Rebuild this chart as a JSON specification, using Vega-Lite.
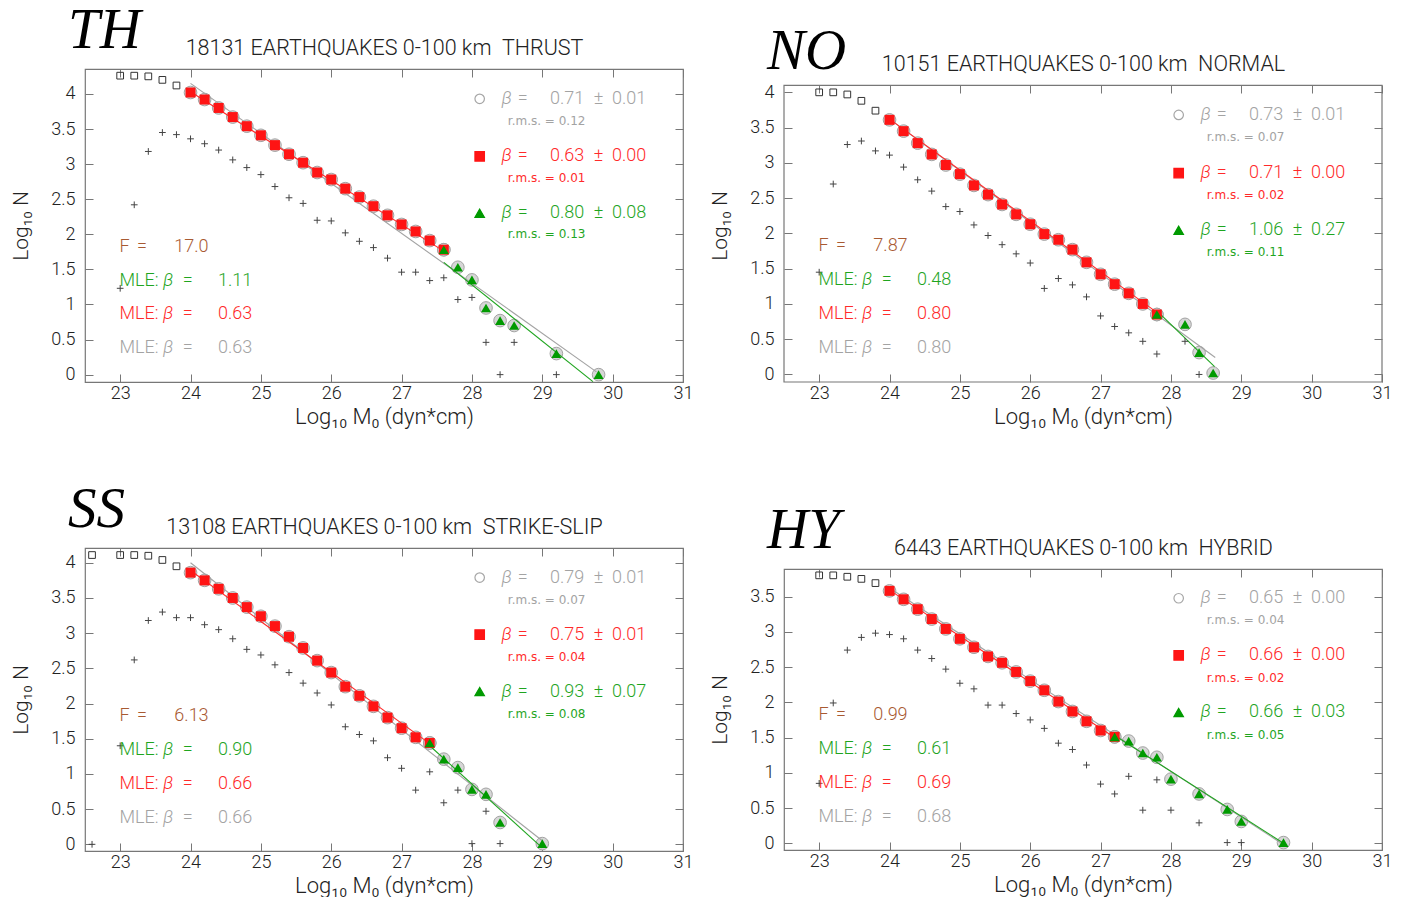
{
"$schema": "https://vega.github.io/schema/vega-lite/v6.json",
"background": "white",
"padding": {"left": 10, "top": 0, "right": 0, "bottom": 0},
"config": {
 "view": {"stroke": "#777777", "strokeWidth": 1.2},
 "axis": {"domain": false, "grid": false, "ticks": true, "tickColor": "#777777", "tickSize": -8, "tickWidth": 1, "labelFont": "Roboto", "labelFontSize": 18, "labelFontWeight": 300, "labelColor": "#222222", "labelFlush": false, "labelOverlap": false, "titleFont": "Roboto, DejaVu Sans", "titleFontSize": 21, "titleFontWeight": 300, "titleColor": "#222222"},
 "title": {"font": "Liberation Serif", "fontStyle": "italic", "fontWeight": "normal", "fontSize": 57, "color": "#000000", "anchor": "start", "frame": "group", "dx": -17, "offset": -22}
},
"datasets": {
 "pts": [
  {"p":"TH","k":"low","x":23.0,"y":4.26},{"p":"TH","k":"low","x":23.2,"y":4.26},{"p":"TH","k":"low","x":23.4,"y":4.25},{"p":"TH","k":"low","x":23.6,"y":4.20},{"p":"TH","k":"low","x":23.8,"y":4.12},
  {"p":"TH","k":"fit1","x":24.0,"y":4.02},{"p":"TH","k":"fit1","x":24.2,"y":3.92},{"p":"TH","k":"fit1","x":24.4,"y":3.80},{"p":"TH","k":"fit1","x":24.6,"y":3.67},{"p":"TH","k":"fit1","x":24.8,"y":3.54},{"p":"TH","k":"fit1","x":25.0,"y":3.41},{"p":"TH","k":"fit1","x":25.2,"y":3.27},{"p":"TH","k":"fit1","x":25.4,"y":3.14},{"p":"TH","k":"fit1","x":25.6,"y":3.02},{"p":"TH","k":"fit1","x":25.8,"y":2.88},{"p":"TH","k":"fit1","x":26.0,"y":2.78},{"p":"TH","k":"fit1","x":26.2,"y":2.65},{"p":"TH","k":"fit1","x":26.4,"y":2.53},{"p":"TH","k":"fit1","x":26.6,"y":2.40},{"p":"TH","k":"fit1","x":26.8,"y":2.27},{"p":"TH","k":"fit1","x":27.0,"y":2.14},{"p":"TH","k":"fit1","x":27.2,"y":2.04},{"p":"TH","k":"fit1","x":27.4,"y":1.91},{"p":"TH","k":"fit1","x":27.6,"y":1.78},
  {"p":"TH","k":"fit2","x":27.6,"y":1.78},{"p":"TH","k":"fit2","x":27.8,"y":1.53},{"p":"TH","k":"fit2","x":28.0,"y":1.35},{"p":"TH","k":"fit2","x":28.2,"y":0.95},{"p":"TH","k":"fit2","x":28.4,"y":0.77},{"p":"TH","k":"fit2","x":28.6,"y":0.70},{"p":"TH","k":"fit2","x":29.2,"y":0.30},{"p":"TH","k":"fit2","x":29.8,"y":0.00},
  {"p":"TH","k":"inc","x":23.0,"y":1.23},{"p":"TH","k":"inc","x":23.2,"y":2.42},{"p":"TH","k":"inc","x":23.4,"y":3.18},{"p":"TH","k":"inc","x":23.6,"y":3.45},{"p":"TH","k":"inc","x":23.8,"y":3.42},{"p":"TH","k":"inc","x":24.0,"y":3.36},{"p":"TH","k":"inc","x":24.2,"y":3.29},{"p":"TH","k":"inc","x":24.4,"y":3.20},{"p":"TH","k":"inc","x":24.6,"y":3.06},{"p":"TH","k":"inc","x":24.8,"y":2.95},{"p":"TH","k":"inc","x":25.0,"y":2.85},{"p":"TH","k":"inc","x":25.2,"y":2.68},{"p":"TH","k":"inc","x":25.4,"y":2.52},{"p":"TH","k":"inc","x":25.6,"y":2.44},{"p":"TH","k":"inc","x":25.8,"y":2.20},{"p":"TH","k":"inc","x":26.0,"y":2.19},{"p":"TH","k":"inc","x":26.2,"y":2.02},{"p":"TH","k":"inc","x":26.4,"y":1.90},{"p":"TH","k":"inc","x":26.6,"y":1.81},{"p":"TH","k":"inc","x":26.8,"y":1.66},{"p":"TH","k":"inc","x":27.0,"y":1.46},{"p":"TH","k":"inc","x":27.2,"y":1.46},{"p":"TH","k":"inc","x":27.4,"y":1.34},{"p":"TH","k":"inc","x":27.6,"y":1.38},{"p":"TH","k":"inc","x":27.8,"y":1.07},{"p":"TH","k":"inc","x":28.0,"y":1.10},{"p":"TH","k":"inc","x":28.2,"y":0.46},{"p":"TH","k":"inc","x":28.4,"y":0.0},{"p":"TH","k":"inc","x":28.6,"y":0.46},{"p":"TH","k":"inc","x":29.2,"y":0.0},

  {"p":"NO","k":"low","x":23.0,"y":4.00},{"p":"NO","k":"low","x":23.2,"y":4.00},{"p":"NO","k":"low","x":23.4,"y":3.97},{"p":"NO","k":"low","x":23.6,"y":3.88},{"p":"NO","k":"low","x":23.8,"y":3.74},
  {"p":"NO","k":"fit1","x":24.0,"y":3.61},{"p":"NO","k":"fit1","x":24.2,"y":3.45},{"p":"NO","k":"fit1","x":24.4,"y":3.28},{"p":"NO","k":"fit1","x":24.6,"y":3.12},{"p":"NO","k":"fit1","x":24.8,"y":2.97},{"p":"NO","k":"fit1","x":25.0,"y":2.84},{"p":"NO","k":"fit1","x":25.2,"y":2.68},{"p":"NO","k":"fit1","x":25.4,"y":2.55},{"p":"NO","k":"fit1","x":25.6,"y":2.41},{"p":"NO","k":"fit1","x":25.8,"y":2.27},{"p":"NO","k":"fit1","x":26.0,"y":2.13},{"p":"NO","k":"fit1","x":26.2,"y":1.99},{"p":"NO","k":"fit1","x":26.4,"y":1.91},{"p":"NO","k":"fit1","x":26.6,"y":1.77},{"p":"NO","k":"fit1","x":26.8,"y":1.59},{"p":"NO","k":"fit1","x":27.0,"y":1.42},{"p":"NO","k":"fit1","x":27.2,"y":1.28},{"p":"NO","k":"fit1","x":27.4,"y":1.15},{"p":"NO","k":"fit1","x":27.6,"y":1.00},{"p":"NO","k":"fit1","x":27.8,"y":0.85},
  {"p":"NO","k":"fit2","x":27.8,"y":0.85},{"p":"NO","k":"fit2","x":28.2,"y":0.71},{"p":"NO","k":"fit2","x":28.4,"y":0.31},{"p":"NO","k":"fit2","x":28.6,"y":0.02},
  {"p":"NO","k":"inc","x":23.0,"y":1.45},{"p":"NO","k":"inc","x":23.2,"y":2.70},{"p":"NO","k":"inc","x":23.4,"y":3.26},{"p":"NO","k":"inc","x":23.6,"y":3.31},{"p":"NO","k":"inc","x":23.8,"y":3.17},{"p":"NO","k":"inc","x":24.0,"y":3.11},{"p":"NO","k":"inc","x":24.2,"y":2.94},{"p":"NO","k":"inc","x":24.4,"y":2.76},{"p":"NO","k":"inc","x":24.6,"y":2.60},{"p":"NO","k":"inc","x":24.8,"y":2.38},{"p":"NO","k":"inc","x":25.0,"y":2.31},{"p":"NO","k":"inc","x":25.2,"y":2.12},{"p":"NO","k":"inc","x":25.4,"y":1.97},{"p":"NO","k":"inc","x":25.6,"y":1.84},{"p":"NO","k":"inc","x":25.8,"y":1.71},{"p":"NO","k":"inc","x":26.0,"y":1.58},{"p":"NO","k":"inc","x":26.2,"y":1.22},{"p":"NO","k":"inc","x":26.4,"y":1.36},{"p":"NO","k":"inc","x":26.6,"y":1.27},{"p":"NO","k":"inc","x":26.8,"y":1.10},{"p":"NO","k":"inc","x":27.0,"y":0.83},{"p":"NO","k":"inc","x":27.2,"y":0.68},{"p":"NO","k":"inc","x":27.4,"y":0.59},{"p":"NO","k":"inc","x":27.6,"y":0.47},{"p":"NO","k":"inc","x":27.8,"y":0.29},{"p":"NO","k":"inc","x":28.2,"y":0.47},{"p":"NO","k":"inc","x":28.4,"y":0.0},

  {"p":"SS","k":"low","x":22.6,"y":4.11},{"p":"SS","k":"low","x":23.0,"y":4.11},{"p":"SS","k":"low","x":23.2,"y":4.11},{"p":"SS","k":"low","x":23.4,"y":4.10},{"p":"SS","k":"low","x":23.6,"y":4.04},{"p":"SS","k":"low","x":23.8,"y":3.95},
  {"p":"SS","k":"fit1","x":24.0,"y":3.86},{"p":"SS","k":"fit1","x":24.2,"y":3.75},{"p":"SS","k":"fit1","x":24.4,"y":3.63},{"p":"SS","k":"fit1","x":24.6,"y":3.50},{"p":"SS","k":"fit1","x":24.8,"y":3.37},{"p":"SS","k":"fit1","x":25.0,"y":3.24},{"p":"SS","k":"fit1","x":25.2,"y":3.10},{"p":"SS","k":"fit1","x":25.4,"y":2.95},{"p":"SS","k":"fit1","x":25.6,"y":2.79},{"p":"SS","k":"fit1","x":25.8,"y":2.61},{"p":"SS","k":"fit1","x":26.0,"y":2.44},{"p":"SS","k":"fit1","x":26.2,"y":2.24},{"p":"SS","k":"fit1","x":26.4,"y":2.11},{"p":"SS","k":"fit1","x":26.6,"y":1.96},{"p":"SS","k":"fit1","x":26.8,"y":1.80},{"p":"SS","k":"fit1","x":27.0,"y":1.65},{"p":"SS","k":"fit1","x":27.2,"y":1.52},{"p":"SS","k":"fit1","x":27.4,"y":1.44},
  {"p":"SS","k":"fit2","x":27.4,"y":1.44},{"p":"SS","k":"fit2","x":27.6,"y":1.21},{"p":"SS","k":"fit2","x":27.8,"y":1.09},{"p":"SS","k":"fit2","x":28.0,"y":0.78},{"p":"SS","k":"fit2","x":28.2,"y":0.71},{"p":"SS","k":"fit2","x":28.4,"y":0.31},{"p":"SS","k":"fit2","x":29.0,"y":0.01},
  {"p":"SS","k":"inc","x":22.6,"y":0.0},{"p":"SS","k":"inc","x":23.0,"y":1.40},{"p":"SS","k":"inc","x":23.2,"y":2.62},{"p":"SS","k":"inc","x":23.4,"y":3.18},{"p":"SS","k":"inc","x":23.6,"y":3.30},{"p":"SS","k":"inc","x":23.8,"y":3.22},{"p":"SS","k":"inc","x":24.0,"y":3.22},{"p":"SS","k":"inc","x":24.2,"y":3.12},{"p":"SS","k":"inc","x":24.4,"y":3.05},{"p":"SS","k":"inc","x":24.6,"y":2.92},{"p":"SS","k":"inc","x":24.8,"y":2.77},{"p":"SS","k":"inc","x":25.0,"y":2.69},{"p":"SS","k":"inc","x":25.2,"y":2.55},{"p":"SS","k":"inc","x":25.4,"y":2.44},{"p":"SS","k":"inc","x":25.6,"y":2.29},{"p":"SS","k":"inc","x":25.8,"y":2.15},{"p":"SS","k":"inc","x":26.0,"y":1.98},{"p":"SS","k":"inc","x":26.2,"y":1.67},{"p":"SS","k":"inc","x":26.4,"y":1.56},{"p":"SS","k":"inc","x":26.6,"y":1.47},{"p":"SS","k":"inc","x":26.8,"y":1.23},{"p":"SS","k":"inc","x":27.0,"y":1.08},{"p":"SS","k":"inc","x":27.2,"y":0.77},{"p":"SS","k":"inc","x":27.4,"y":1.03},{"p":"SS","k":"inc","x":27.6,"y":0.59},{"p":"SS","k":"inc","x":27.8,"y":0.77},{"p":"SS","k":"inc","x":28.0,"y":0.01},{"p":"SS","k":"inc","x":28.2,"y":0.47},{"p":"SS","k":"inc","x":28.4,"y":0.01},

  {"p":"HY","k":"low","x":23.0,"y":3.80},{"p":"HY","k":"low","x":23.2,"y":3.80},{"p":"HY","k":"low","x":23.4,"y":3.78},{"p":"HY","k":"low","x":23.6,"y":3.75},{"p":"HY","k":"low","x":23.8,"y":3.69},
  {"p":"HY","k":"fit1","x":24.0,"y":3.58},{"p":"HY","k":"fit1","x":24.2,"y":3.46},{"p":"HY","k":"fit1","x":24.4,"y":3.32},{"p":"HY","k":"fit1","x":24.6,"y":3.18},{"p":"HY","k":"fit1","x":24.8,"y":3.04},{"p":"HY","k":"fit1","x":25.0,"y":2.90},{"p":"HY","k":"fit1","x":25.2,"y":2.78},{"p":"HY","k":"fit1","x":25.4,"y":2.65},{"p":"HY","k":"fit1","x":25.6,"y":2.56},{"p":"HY","k":"fit1","x":25.8,"y":2.43},{"p":"HY","k":"fit1","x":26.0,"y":2.30},{"p":"HY","k":"fit1","x":26.2,"y":2.17},{"p":"HY","k":"fit1","x":26.4,"y":2.01},{"p":"HY","k":"fit1","x":26.6,"y":1.87},{"p":"HY","k":"fit1","x":26.8,"y":1.73},{"p":"HY","k":"fit1","x":27.0,"y":1.60},{"p":"HY","k":"fit1","x":27.2,"y":1.51},
  {"p":"HY","k":"fit2","x":27.2,"y":1.51},{"p":"HY","k":"fit2","x":27.4,"y":1.45},{"p":"HY","k":"fit2","x":27.6,"y":1.28},{"p":"HY","k":"fit2","x":27.8,"y":1.22},{"p":"HY","k":"fit2","x":28.0,"y":0.91},{"p":"HY","k":"fit2","x":28.4,"y":0.70},{"p":"HY","k":"fit2","x":28.8,"y":0.48},{"p":"HY","k":"fit2","x":29.0,"y":0.31},{"p":"HY","k":"fit2","x":29.6,"y":0.01},
  {"p":"HY","k":"inc","x":23.0,"y":0.85},{"p":"HY","k":"inc","x":23.2,"y":1.99},{"p":"HY","k":"inc","x":23.4,"y":2.74},{"p":"HY","k":"inc","x":23.6,"y":2.92},{"p":"HY","k":"inc","x":23.8,"y":2.98},{"p":"HY","k":"inc","x":24.0,"y":2.96},{"p":"HY","k":"inc","x":24.2,"y":2.90},{"p":"HY","k":"inc","x":24.4,"y":2.74},{"p":"HY","k":"inc","x":24.6,"y":2.62},{"p":"HY","k":"inc","x":24.8,"y":2.47},{"p":"HY","k":"inc","x":25.0,"y":2.27},{"p":"HY","k":"inc","x":25.2,"y":2.19},{"p":"HY","k":"inc","x":25.4,"y":1.96},{"p":"HY","k":"inc","x":25.6,"y":1.96},{"p":"HY","k":"inc","x":25.8,"y":1.84},{"p":"HY","k":"inc","x":26.0,"y":1.75},{"p":"HY","k":"inc","x":26.2,"y":1.63},{"p":"HY","k":"inc","x":26.4,"y":1.42},{"p":"HY","k":"inc","x":26.6,"y":1.33},{"p":"HY","k":"inc","x":26.8,"y":1.11},{"p":"HY","k":"inc","x":27.0,"y":0.84},{"p":"HY","k":"inc","x":27.2,"y":0.70},{"p":"HY","k":"inc","x":27.4,"y":0.95},{"p":"HY","k":"inc","x":27.6,"y":0.47},{"p":"HY","k":"inc","x":27.8,"y":0.90},{"p":"HY","k":"inc","x":28.0,"y":0.47},{"p":"HY","k":"inc","x":28.4,"y":0.29},{"p":"HY","k":"inc","x":28.8,"y":0.01},{"p":"HY","k":"inc","x":29.0,"y":0.01}
 ],
 "lines": [
  {"p":"TH","s":"all","x":24.0,"y":4.15},{"p":"TH","s":"all","x":29.77,"y":0.04},
  {"p":"TH","s":"fit1","x":24.0,"y":4.03},{"p":"TH","s":"fit1","x":27.6,"y":1.76},
  {"p":"TH","s":"fit2","x":27.6,"y":1.60},{"p":"TH","s":"fit2","x":29.72,"y":-0.10},
  {"p":"NO","s":"all","x":24.0,"y":3.62},{"p":"NO","s":"all","x":28.63,"y":0.24},
  {"p":"NO","s":"fit1","x":24.0,"y":3.62},{"p":"NO","s":"fit1","x":27.8,"y":0.88},
  {"p":"NO","s":"fit2","x":27.8,"y":0.90},{"p":"NO","s":"fit2","x":28.62,"y":0.11},
  {"p":"SS","s":"all","x":24.0,"y":4.00},{"p":"SS","s":"all","x":29.0,"y":0.05},
  {"p":"SS","s":"fit1","x":24.0,"y":3.89},{"p":"SS","s":"fit1","x":27.4,"y":1.43},
  {"p":"SS","s":"fit2","x":27.4,"y":1.40},{"p":"SS","s":"fit2","x":29.0,"y":-0.05},
  {"p":"HY","s":"all","x":24.0,"y":3.62},{"p":"HY","s":"all","x":29.6,"y":-0.02},
  {"p":"HY","s":"fit1","x":24.0,"y":3.59},{"p":"HY","s":"fit1","x":27.2,"y":1.50},
  {"p":"HY","s":"fit2","x":27.2,"y":1.53},{"p":"HY","s":"fit2","x":29.6,"y":0.0}
 ],
 "frames": [
  {"p":"NO","x1":22.5,"x2":31,"y1":-0.107,"y2":4.10}
 ],
 "notes": [
  {"p":"TH","s":"ftest","r":"main","x":22.99,"y":1.82,"t":"F"},{"p":"TH","s":"ftest","r":"main","x":23.24,"y":1.82,"t":"="},{"p":"TH","s":"ftest","r":"main","x":23.77,"y":1.82,"t":"17.0"},
  {"p":"TH","s":"fit2","r":"main","x":22.99,"y":1.34,"t":"MLE:"},{"p":"TH","s":"fit2","r":"beta","x":23.61,"y":1.34,"t":"β"},{"p":"TH","s":"fit2","r":"main","x":23.89,"y":1.34,"t":"="},{"p":"TH","s":"fit2","r":"main","x":24.39,"y":1.34,"t":"1.11"},
  {"p":"TH","s":"fit1","r":"main","x":22.99,"y":0.86,"t":"MLE:"},{"p":"TH","s":"fit1","r":"beta","x":23.61,"y":0.86,"t":"β"},{"p":"TH","s":"fit1","r":"main","x":23.89,"y":0.86,"t":"="},{"p":"TH","s":"fit1","r":"main","x":24.39,"y":0.86,"t":"0.63"},
  {"p":"TH","s":"all","r":"main","x":22.99,"y":0.38,"t":"MLE:"},{"p":"TH","s":"all","r":"beta","x":23.61,"y":0.38,"t":"β"},{"p":"TH","s":"all","r":"main","x":23.89,"y":0.38,"t":"="},{"p":"TH","s":"all","r":"main","x":24.39,"y":0.38,"t":"0.63"},
  {"p":"TH","s":"all","r":"sym","x":28.11,"y":3.93,"t":""},{"p":"TH","s":"all","r":"beta","x":28.42,"y":3.93,"t":"β"},{"p":"TH","s":"all","r":"main","x":28.65,"y":3.93,"t":"="},{"p":"TH","s":"all","r":"main","x":29.11,"y":3.93,"t":"0.71"},{"p":"TH","s":"all","r":"main","x":29.73,"y":3.93,"t":"± \u00a00.01"},{"p":"TH","s":"all","r":"rms","x":28.51,"y":3.61,"t":"r.m.s. = 0.12"},
  {"p":"TH","s":"fit1","r":"sym","x":28.11,"y":3.11,"t":""},{"p":"TH","s":"fit1","r":"beta","x":28.42,"y":3.11,"t":"β"},{"p":"TH","s":"fit1","r":"main","x":28.65,"y":3.11,"t":"="},{"p":"TH","s":"fit1","r":"main","x":29.11,"y":3.11,"t":"0.63"},{"p":"TH","s":"fit1","r":"main","x":29.73,"y":3.11,"t":"± \u00a00.00"},{"p":"TH","s":"fit1","r":"rms","x":28.51,"y":2.80,"t":"r.m.s. = 0.01"},
  {"p":"TH","s":"fit2","r":"sym","x":28.11,"y":2.30,"t":""},{"p":"TH","s":"fit2","r":"beta","x":28.42,"y":2.30,"t":"β"},{"p":"TH","s":"fit2","r":"main","x":28.65,"y":2.30,"t":"="},{"p":"TH","s":"fit2","r":"main","x":29.11,"y":2.30,"t":"0.80"},{"p":"TH","s":"fit2","r":"main","x":29.73,"y":2.30,"t":"± \u00a00.08"},{"p":"TH","s":"fit2","r":"rms","x":28.51,"y":2.00,"t":"r.m.s. = 0.13"},

  {"p":"NO","s":"ftest","r":"main","x":22.99,"y":1.82,"t":"F"},{"p":"NO","s":"ftest","r":"main","x":23.24,"y":1.82,"t":"="},{"p":"NO","s":"ftest","r":"main","x":23.77,"y":1.82,"t":"7.87"},
  {"p":"NO","s":"fit2","r":"main","x":22.99,"y":1.34,"t":"MLE:"},{"p":"NO","s":"fit2","r":"beta","x":23.61,"y":1.34,"t":"β"},{"p":"NO","s":"fit2","r":"main","x":23.89,"y":1.34,"t":"="},{"p":"NO","s":"fit2","r":"main","x":24.39,"y":1.34,"t":"0.48"},
  {"p":"NO","s":"fit1","r":"main","x":22.99,"y":0.86,"t":"MLE:"},{"p":"NO","s":"fit1","r":"beta","x":23.61,"y":0.86,"t":"β"},{"p":"NO","s":"fit1","r":"main","x":23.89,"y":0.86,"t":"="},{"p":"NO","s":"fit1","r":"main","x":24.39,"y":0.86,"t":"0.80"},
  {"p":"NO","s":"all","r":"main","x":22.99,"y":0.38,"t":"MLE:"},{"p":"NO","s":"all","r":"beta","x":23.61,"y":0.38,"t":"β"},{"p":"NO","s":"all","r":"main","x":23.89,"y":0.38,"t":"="},{"p":"NO","s":"all","r":"main","x":24.39,"y":0.38,"t":"0.80"},
  {"p":"NO","s":"all","r":"sym","x":28.11,"y":3.68,"t":""},{"p":"NO","s":"all","r":"beta","x":28.42,"y":3.68,"t":"β"},{"p":"NO","s":"all","r":"main","x":28.65,"y":3.68,"t":"="},{"p":"NO","s":"all","r":"main","x":29.11,"y":3.68,"t":"0.73"},{"p":"NO","s":"all","r":"main","x":29.73,"y":3.68,"t":"± \u00a00.01"},{"p":"NO","s":"all","r":"rms","x":28.51,"y":3.37,"t":"r.m.s. = 0.07"},
  {"p":"NO","s":"fit1","r":"sym","x":28.11,"y":2.855,"t":""},{"p":"NO","s":"fit1","r":"beta","x":28.42,"y":2.855,"t":"β"},{"p":"NO","s":"fit1","r":"main","x":28.65,"y":2.855,"t":"="},{"p":"NO","s":"fit1","r":"main","x":29.11,"y":2.855,"t":"0.71"},{"p":"NO","s":"fit1","r":"main","x":29.73,"y":2.855,"t":"± \u00a00.00"},{"p":"NO","s":"fit1","r":"rms","x":28.51,"y":2.54,"t":"r.m.s. = 0.02"},
  {"p":"NO","s":"fit2","r":"sym","x":28.11,"y":2.045,"t":""},{"p":"NO","s":"fit2","r":"beta","x":28.42,"y":2.045,"t":"β"},{"p":"NO","s":"fit2","r":"main","x":28.65,"y":2.045,"t":"="},{"p":"NO","s":"fit2","r":"main","x":29.11,"y":2.045,"t":"1.06"},{"p":"NO","s":"fit2","r":"main","x":29.73,"y":2.045,"t":"± \u00a00.27"},{"p":"NO","s":"fit2","r":"rms","x":28.51,"y":1.73,"t":"r.m.s. = 0.11"},

  {"p":"SS","s":"ftest","r":"main","x":22.99,"y":1.82,"t":"F"},{"p":"SS","s":"ftest","r":"main","x":23.24,"y":1.82,"t":"="},{"p":"SS","s":"ftest","r":"main","x":23.77,"y":1.82,"t":"6.13"},
  {"p":"SS","s":"fit2","r":"main","x":22.99,"y":1.34,"t":"MLE:"},{"p":"SS","s":"fit2","r":"beta","x":23.61,"y":1.34,"t":"β"},{"p":"SS","s":"fit2","r":"main","x":23.89,"y":1.34,"t":"="},{"p":"SS","s":"fit2","r":"main","x":24.39,"y":1.34,"t":"0.90"},
  {"p":"SS","s":"fit1","r":"main","x":22.99,"y":0.86,"t":"MLE:"},{"p":"SS","s":"fit1","r":"beta","x":23.61,"y":0.86,"t":"β"},{"p":"SS","s":"fit1","r":"main","x":23.89,"y":0.86,"t":"="},{"p":"SS","s":"fit1","r":"main","x":24.39,"y":0.86,"t":"0.66"},
  {"p":"SS","s":"all","r":"main","x":22.99,"y":0.38,"t":"MLE:"},{"p":"SS","s":"all","r":"beta","x":23.61,"y":0.38,"t":"β"},{"p":"SS","s":"all","r":"main","x":23.89,"y":0.38,"t":"="},{"p":"SS","s":"all","r":"main","x":24.39,"y":0.38,"t":"0.66"},
  {"p":"SS","s":"all","r":"sym","x":28.11,"y":3.79,"t":""},{"p":"SS","s":"all","r":"beta","x":28.42,"y":3.79,"t":"β"},{"p":"SS","s":"all","r":"main","x":28.65,"y":3.79,"t":"="},{"p":"SS","s":"all","r":"main","x":29.11,"y":3.79,"t":"0.79"},{"p":"SS","s":"all","r":"main","x":29.73,"y":3.79,"t":"± \u00a00.01"},{"p":"SS","s":"all","r":"rms","x":28.51,"y":3.475,"t":"r.m.s. = 0.07"},
  {"p":"SS","s":"fit1","r":"sym","x":28.11,"y":2.98,"t":""},{"p":"SS","s":"fit1","r":"beta","x":28.42,"y":2.98,"t":"β"},{"p":"SS","s":"fit1","r":"main","x":28.65,"y":2.98,"t":"="},{"p":"SS","s":"fit1","r":"main","x":29.11,"y":2.98,"t":"0.75"},{"p":"SS","s":"fit1","r":"main","x":29.73,"y":2.98,"t":"± \u00a00.01"},{"p":"SS","s":"fit1","r":"rms","x":28.51,"y":2.665,"t":"r.m.s. = 0.04"},
  {"p":"SS","s":"fit2","r":"sym","x":28.11,"y":2.17,"t":""},{"p":"SS","s":"fit2","r":"beta","x":28.42,"y":2.17,"t":"β"},{"p":"SS","s":"fit2","r":"main","x":28.65,"y":2.17,"t":"="},{"p":"SS","s":"fit2","r":"main","x":29.11,"y":2.17,"t":"0.93"},{"p":"SS","s":"fit2","r":"main","x":29.73,"y":2.17,"t":"± \u00a00.07"},{"p":"SS","s":"fit2","r":"rms","x":28.51,"y":1.855,"t":"r.m.s. = 0.08"},

  {"p":"HY","s":"ftest","r":"main","x":22.99,"y":1.82,"t":"F"},{"p":"HY","s":"ftest","r":"main","x":23.24,"y":1.82,"t":"="},{"p":"HY","s":"ftest","r":"main","x":23.77,"y":1.82,"t":"0.99"},
  {"p":"HY","s":"fit2","r":"main","x":22.99,"y":1.34,"t":"MLE:"},{"p":"HY","s":"fit2","r":"beta","x":23.61,"y":1.34,"t":"β"},{"p":"HY","s":"fit2","r":"main","x":23.89,"y":1.34,"t":"="},{"p":"HY","s":"fit2","r":"main","x":24.39,"y":1.34,"t":"0.61"},
  {"p":"HY","s":"fit1","r":"main","x":22.99,"y":0.86,"t":"MLE:"},{"p":"HY","s":"fit1","r":"beta","x":23.61,"y":0.86,"t":"β"},{"p":"HY","s":"fit1","r":"main","x":23.89,"y":0.86,"t":"="},{"p":"HY","s":"fit1","r":"main","x":24.39,"y":0.86,"t":"0.69"},
  {"p":"HY","s":"all","r":"main","x":22.99,"y":0.38,"t":"MLE:"},{"p":"HY","s":"all","r":"beta","x":23.61,"y":0.38,"t":"β"},{"p":"HY","s":"all","r":"main","x":23.89,"y":0.38,"t":"="},{"p":"HY","s":"all","r":"main","x":24.39,"y":0.38,"t":"0.68"},
  {"p":"HY","s":"all","r":"sym","x":28.11,"y":3.475,"t":""},{"p":"HY","s":"all","r":"beta","x":28.42,"y":3.475,"t":"β"},{"p":"HY","s":"all","r":"main","x":28.65,"y":3.475,"t":"="},{"p":"HY","s":"all","r":"main","x":29.11,"y":3.475,"t":"0.65"},{"p":"HY","s":"all","r":"main","x":29.73,"y":3.475,"t":"± \u00a00.00"},{"p":"HY","s":"all","r":"rms","x":28.51,"y":3.16,"t":"r.m.s. = 0.04"},
  {"p":"HY","s":"fit1","r":"sym","x":28.11,"y":2.665,"t":""},{"p":"HY","s":"fit1","r":"beta","x":28.42,"y":2.665,"t":"β"},{"p":"HY","s":"fit1","r":"main","x":28.65,"y":2.665,"t":"="},{"p":"HY","s":"fit1","r":"main","x":29.11,"y":2.665,"t":"0.66"},{"p":"HY","s":"fit1","r":"main","x":29.73,"y":2.665,"t":"± \u00a00.00"},{"p":"HY","s":"fit1","r":"rms","x":28.51,"y":2.35,"t":"r.m.s. = 0.02"},
  {"p":"HY","s":"fit2","r":"sym","x":28.11,"y":1.855,"t":""},{"p":"HY","s":"fit2","r":"beta","x":28.42,"y":1.855,"t":"β"},{"p":"HY","s":"fit2","r":"main","x":28.65,"y":1.855,"t":"="},{"p":"HY","s":"fit2","r":"main","x":29.11,"y":1.855,"t":"0.66"},{"p":"HY","s":"fit2","r":"main","x":29.73,"y":1.855,"t":"± \u00a00.03"},{"p":"HY","s":"fit2","r":"rms","x":28.51,"y":1.54,"t":"r.m.s. = 0.05"}
 ]
},
"spacing": 15,
"hconcat": [
 {"spacing": 51, "vconcat": [
 {
  "width": 598, "height": 313,
  "title": {"text": "TH"},
  "resolve": {"axis": {"x": "independent", "y": "independent"}},
  "encoding": {
   "x": {"field": "x", "type": "quantitative", "scale": {"domain": [22.5, 31], "nice": false, "zero": false}, "axis": null},
   "y": {"field": "y", "type": "quantitative", "scale": {"domain": [-0.105, 4.355], "nice": false, "zero": false}, "axis": null}
  },
  "layer": [
   {"data": {"name": "pts"}, "transform": [{"filter": "datum.p == 'TH' && (datum.k == 'fit1' || datum.k == 'fit2')"}],
    "mark": {"type": "point", "shape": "circle", "filled": true, "fill": "#d6d6d6", "stroke": "#a3a3a3", "strokeWidth": 1, "size": 160, "opacity": 1},
    "encoding": {
     "x": {"field": "x", "type": "quantitative", "scale": {"domain": [22.5, 31], "nice": false, "zero": false}, "axis": {"orient": "bottom", "values": [23,24,25,26,27,28,29,30,31], "format": "d", "labelPadding": 10, "title": "Log₁₀ M₀ (dyn*cm)", "titleFontSize": 22, "titlePadding": 4}},
     "y": {"field": "y", "type": "quantitative", "scale": {"domain": [-0.105, 4.355], "nice": false, "zero": false}, "axis": {"orient": "left", "values": [0,0.5,1,1.5,2,2.5,3,3.5,4], "format": "~g", "labelPadding": 18, "title": "Log₁₀ N", "titlePadding": 19}}
    }},
   {"data": {"name": "lines"}, "transform": [{"filter": "datum.p == 'TH'"}],
    "mark": {"type": "line", "strokeWidth": 1.1},
    "encoding": {
     "x": {"field": "x", "type": "quantitative", "scale": {"domain": [22.5, 31], "nice": false, "zero": false}, "axis": {"orient": "top", "values": [23,24,25,26,27,28,29,30,31], "labels": false, "title": "18131 EARTHQUAKES 0-100 km \u00a0THRUST", "titleFontSize": 21.5, "titlePadding": 9}},
     "y": {"field": "y", "type": "quantitative", "scale": {"domain": [-0.105, 4.355], "nice": false, "zero": false}, "axis": {"orient": "right", "values": [0,0.5,1,1.5,2,2.5,3,3.5,4], "labels": false, "title": null}},
     "color": {"field": "s", "type": "nominal", "scale": {"domain": ["all","fit1","fit2","ftest"], "range": ["#a3a3a3","#ff2a2a","#1fa51f","#a85a32"]}, "legend": null}
    }},
   {"data": {"name": "pts"}, "transform": [{"filter": "datum.p == 'TH' && datum.k == 'low'"}],
    "mark": {"type": "point", "shape": "square", "filled": false, "stroke": "#333333", "strokeWidth": 1, "size": 45, "opacity": 1}},
   {"data": {"name": "pts"}, "transform": [{"filter": "datum.p == 'TH' && datum.k == 'inc'"}],
    "mark": {"type": "point", "shape": "M-1,0L1,0M0,-1L0,1", "filled": false, "stroke": "#444444", "strokeWidth": 1, "size": 45, "opacity": 1}},
   {"data": {"name": "pts"}, "transform": [{"filter": "datum.p == 'TH' && datum.k == 'fit1'"}],
    "mark": {"type": "point", "shape": "square", "filled": true, "fill": "#ff1414", "size": 100, "opacity": 1}},
   {"data": {"name": "pts"}, "transform": [{"filter": "datum.p == 'TH' && datum.k == 'fit2'"}],
    "mark": {"type": "point", "shape": "triangle-up", "filled": true, "fill": "#009a00", "size": 100, "opacity": 1}},
   {"data": {"name": "notes"}, "transform": [{"filter": "datum.p == 'TH' && datum.r == 'sym'"}],
    "mark": {"type": "point", "strokeWidth": 1.2, "size": 90, "opacity": 1},
    "encoding": {
     "shape": {"field": "s", "type": "nominal", "scale": {"domain": ["all","fit1","fit2"], "range": ["circle","square","triangle-up"]}, "legend": null},
     "fill": {"field": "s", "type": "nominal", "scale": {"domain": ["all","fit1","fit2"], "range": ["#ffffff","#ff1414","#009a00"]}, "legend": null},
     "stroke": {"field": "s", "type": "nominal", "scale": {"domain": ["all","fit1","fit2"], "range": ["#a6a6a6","#ff1414","#009a00"]}, "legend": null}
    }},
   {"data": {"name": "notes"}, "transform": [{"filter": "datum.p == 'TH' && datum.r == 'main'"}],
    "mark": {"type": "text", "align": "left", "baseline": "middle", "font": "Roboto", "fontSize": 18, "fontWeight": 300},
    "encoding": {"text": {"field": "t", "type": "nominal"}, "color": {"field": "s", "type": "nominal", "scale": {"domain": ["all","fit1","fit2","ftest"], "range": ["#a3a3a3","#ff2a2a","#1fa51f","#a85a32"]}, "legend": null}}},
   {"data": {"name": "notes"}, "transform": [{"filter": "datum.p == 'TH' && datum.r == 'beta'"}],
    "mark": {"type": "text", "align": "left", "baseline": "middle", "font": "Roboto", "fontSize": 18, "fontWeight": 300, "fontStyle": "italic"},
    "encoding": {"text": {"field": "t", "type": "nominal"}, "color": {"field": "s", "type": "nominal", "scale": {"domain": ["all","fit1","fit2","ftest"], "range": ["#a3a3a3","#ff2a2a","#1fa51f","#a85a32"]}, "legend": null}}},
   {"data": {"name": "notes"}, "transform": [{"filter": "datum.p == 'TH' && datum.r == 'rms'"}],
    "mark": {"type": "text", "align": "left", "baseline": "middle", "font": "DejaVu Sans", "fontSize": 12},
    "encoding": {"text": {"field": "t", "type": "nominal"}, "color": {"field": "s", "type": "nominal", "scale": {"domain": ["all","fit1","fit2","ftest"], "range": ["#a3a3a3","#ff2a2a","#1fa51f","#a85a32"]}, "legend": null}}}
  ]
 },
 {
  "width": 598, "height": 303,
  "title": {"text": "SS"},
  "resolve": {"axis": {"x": "independent", "y": "independent"}},
  "encoding": {
   "x": {"field": "x", "type": "quantitative", "scale": {"domain": [22.5, 31], "nice": false, "zero": false}, "axis": null},
   "y": {"field": "y", "type": "quantitative", "scale": {"domain": [-0.095, 4.21], "nice": false, "zero": false}, "axis": null}
  },
  "layer": [
   {"data": {"name": "pts"}, "transform": [{"filter": "datum.p == 'SS' && (datum.k == 'fit1' || datum.k == 'fit2')"}],
    "mark": {"type": "point", "shape": "circle", "filled": true, "fill": "#d6d6d6", "stroke": "#a3a3a3", "strokeWidth": 1, "size": 160, "opacity": 1},
    "encoding": {
     "x": {"field": "x", "type": "quantitative", "scale": {"domain": [22.5, 31], "nice": false, "zero": false}, "axis": {"orient": "bottom", "values": [23,24,25,26,27,28,29,30,31], "format": "d", "labelPadding": 10, "title": "Log₁₀ M₀ (dyn*cm)", "titleFontSize": 22, "titlePadding": 4}},
     "y": {"field": "y", "type": "quantitative", "scale": {"domain": [-0.095, 4.21], "nice": false, "zero": false}, "axis": {"orient": "left", "values": [0,0.5,1,1.5,2,2.5,3,3.5,4], "format": "~g", "labelPadding": 18, "title": "Log₁₀ N", "titlePadding": 19}}
    }},
   {"data": {"name": "lines"}, "transform": [{"filter": "datum.p == 'SS'"}],
    "mark": {"type": "line", "strokeWidth": 1.1},
    "encoding": {
     "x": {"field": "x", "type": "quantitative", "scale": {"domain": [22.5, 31], "nice": false, "zero": false}, "axis": {"orient": "top", "values": [23,24,25,26,27,28,29,30,31], "labels": false, "title": "13108 EARTHQUAKES 0-100 km \u00a0STRIKE-SLIP", "titleFontSize": 21.5, "titlePadding": 9}},
     "y": {"field": "y", "type": "quantitative", "scale": {"domain": [-0.095, 4.21], "nice": false, "zero": false}, "axis": {"orient": "right", "values": [0,0.5,1,1.5,2,2.5,3,3.5,4], "labels": false, "title": null}},
     "color": {"field": "s", "type": "nominal", "scale": {"domain": ["all","fit1","fit2","ftest"], "range": ["#a3a3a3","#ff2a2a","#1fa51f","#a85a32"]}, "legend": null}
    }},
   {"data": {"name": "pts"}, "transform": [{"filter": "datum.p == 'SS' && datum.k == 'low'"}],
    "mark": {"type": "point", "shape": "square", "filled": false, "stroke": "#333333", "strokeWidth": 1, "size": 45, "opacity": 1}},
   {"data": {"name": "pts"}, "transform": [{"filter": "datum.p == 'SS' && datum.k == 'inc'"}],
    "mark": {"type": "point", "shape": "M-1,0L1,0M0,-1L0,1", "filled": false, "stroke": "#444444", "strokeWidth": 1, "size": 45, "opacity": 1}},
   {"data": {"name": "pts"}, "transform": [{"filter": "datum.p == 'SS' && datum.k == 'fit1'"}],
    "mark": {"type": "point", "shape": "square", "filled": true, "fill": "#ff1414", "size": 100, "opacity": 1}},
   {"data": {"name": "pts"}, "transform": [{"filter": "datum.p == 'SS' && datum.k == 'fit2'"}],
    "mark": {"type": "point", "shape": "triangle-up", "filled": true, "fill": "#009a00", "size": 100, "opacity": 1}},
   {"data": {"name": "notes"}, "transform": [{"filter": "datum.p == 'SS' && datum.r == 'sym'"}],
    "mark": {"type": "point", "strokeWidth": 1.2, "size": 90, "opacity": 1},
    "encoding": {
     "shape": {"field": "s", "type": "nominal", "scale": {"domain": ["all","fit1","fit2"], "range": ["circle","square","triangle-up"]}, "legend": null},
     "fill": {"field": "s", "type": "nominal", "scale": {"domain": ["all","fit1","fit2"], "range": ["#ffffff","#ff1414","#009a00"]}, "legend": null},
     "stroke": {"field": "s", "type": "nominal", "scale": {"domain": ["all","fit1","fit2"], "range": ["#a6a6a6","#ff1414","#009a00"]}, "legend": null}
    }},
   {"data": {"name": "notes"}, "transform": [{"filter": "datum.p == 'SS' && datum.r == 'main'"}],
    "mark": {"type": "text", "align": "left", "baseline": "middle", "font": "Roboto", "fontSize": 18, "fontWeight": 300},
    "encoding": {"text": {"field": "t", "type": "nominal"}, "color": {"field": "s", "type": "nominal", "scale": {"domain": ["all","fit1","fit2","ftest"], "range": ["#a3a3a3","#ff2a2a","#1fa51f","#a85a32"]}, "legend": null}}},
   {"data": {"name": "notes"}, "transform": [{"filter": "datum.p == 'SS' && datum.r == 'beta'"}],
    "mark": {"type": "text", "align": "left", "baseline": "middle", "font": "Roboto", "fontSize": 18, "fontWeight": 300, "fontStyle": "italic"},
    "encoding": {"text": {"field": "t", "type": "nominal"}, "color": {"field": "s", "type": "nominal", "scale": {"domain": ["all","fit1","fit2","ftest"], "range": ["#a3a3a3","#ff2a2a","#1fa51f","#a85a32"]}, "legend": null}}},
   {"data": {"name": "notes"}, "transform": [{"filter": "datum.p == 'SS' && datum.r == 'rms'"}],
    "mark": {"type": "text", "align": "left", "baseline": "middle", "font": "DejaVu Sans", "fontSize": 12},
    "encoding": {"text": {"field": "t", "type": "nominal"}, "color": {"field": "s", "type": "nominal", "scale": {"domain": ["all","fit1","fit2","ftest"], "range": ["#a3a3a3","#ff2a2a","#1fa51f","#a85a32"]}, "legend": null}}}
  ]
 }
 ]},
 {"spacing": 51, "vconcat": [
 {
  "width": 598, "height": 313,
  "view": {"stroke": null},
  "title": {"text": "NO", "offset": -27},
  "resolve": {"axis": {"x": "independent", "y": "independent"}},
  "encoding": {
   "x": {"field": "x", "type": "quantitative", "scale": {"domain": [22.5, 31], "nice": false, "zero": false}, "axis": null},
   "y": {"field": "y", "type": "quantitative", "scale": {"domain": [-0.107, 4.331], "nice": false, "zero": false}, "axis": null}
  },
  "layer": [
   {"data": {"name": "frames"}, "transform": [{"filter": "datum.p == 'NO'"}],
    "mark": {"type": "rect", "fill": "#ffffff", "fillOpacity": 0, "stroke": "#777777", "strokeWidth": 1.2},
    "encoding": {"x": {"field": "x1", "type": "quantitative", "scale": {"domain": [22.5, 31], "nice": false, "zero": false}, "axis": null}, "x2": {"field": "x2"}, "y": {"field": "y1", "type": "quantitative", "scale": {"domain": [-0.107, 4.331], "nice": false, "zero": false}, "axis": null}, "y2": {"field": "y2"}}},
   {"data": {"name": "pts"}, "transform": [{"filter": "datum.p == 'NO' && (datum.k == 'fit1' || datum.k == 'fit2')"}],
    "mark": {"type": "point", "shape": "circle", "filled": true, "fill": "#d6d6d6", "stroke": "#a3a3a3", "strokeWidth": 1, "size": 160, "opacity": 1},
    "encoding": {
     "x": {"field": "x", "type": "quantitative", "scale": {"domain": [22.5, 31], "nice": false, "zero": false}, "axis": {"orient": "bottom", "values": [23,24,25,26,27,28,29,30,31], "format": "d", "labelPadding": 10, "title": "Log₁₀ M₀ (dyn*cm)", "titleFontSize": 22, "titlePadding": 4}},
     "y": {"field": "y", "type": "quantitative", "scale": {"domain": [-0.107, 4.331], "nice": false, "zero": false}, "axis": {"orient": "left", "values": [0,0.5,1,1.5,2,2.5,3,3.5,4], "format": "~g", "labelPadding": 18, "title": "Log₁₀ N", "titlePadding": 19}}
    }},
   {"data": {"name": "lines"}, "transform": [{"filter": "datum.p == 'NO'"}],
    "mark": {"type": "line", "strokeWidth": 1.1},
    "encoding": {
     "x": {"field": "x", "type": "quantitative", "scale": {"domain": [22.5, 31], "nice": false, "zero": false}, "axis": {"orient": "top", "offset": -16, "values": [23,24,25,26,27,28,29,30,31], "labels": false, "title": "10151 EARTHQUAKES 0-100 km \u00a0NORMAL", "titleFontSize": 21.5, "titlePadding": 9}},
     "y": {"field": "y", "type": "quantitative", "scale": {"domain": [-0.107, 4.331], "nice": false, "zero": false}, "axis": {"orient": "right", "values": [0,0.5,1,1.5,2,2.5,3,3.5,4], "labels": false, "title": null}},
     "color": {"field": "s", "type": "nominal", "scale": {"domain": ["all","fit1","fit2","ftest"], "range": ["#a3a3a3","#ff2a2a","#1fa51f","#a85a32"]}, "legend": null}
    }},
   {"data": {"name": "pts"}, "transform": [{"filter": "datum.p == 'NO' && datum.k == 'low'"}],
    "mark": {"type": "point", "shape": "square", "filled": false, "stroke": "#333333", "strokeWidth": 1, "size": 45, "opacity": 1}},
   {"data": {"name": "pts"}, "transform": [{"filter": "datum.p == 'NO' && datum.k == 'inc'"}],
    "mark": {"type": "point", "shape": "M-1,0L1,0M0,-1L0,1", "filled": false, "stroke": "#444444", "strokeWidth": 1, "size": 45, "opacity": 1}},
   {"data": {"name": "pts"}, "transform": [{"filter": "datum.p == 'NO' && datum.k == 'fit1'"}],
    "mark": {"type": "point", "shape": "square", "filled": true, "fill": "#ff1414", "size": 100, "opacity": 1}},
   {"data": {"name": "pts"}, "transform": [{"filter": "datum.p == 'NO' && datum.k == 'fit2'"}],
    "mark": {"type": "point", "shape": "triangle-up", "filled": true, "fill": "#009a00", "size": 100, "opacity": 1}},
   {"data": {"name": "notes"}, "transform": [{"filter": "datum.p == 'NO' && datum.r == 'sym'"}],
    "mark": {"type": "point", "strokeWidth": 1.2, "size": 90, "opacity": 1},
    "encoding": {
     "shape": {"field": "s", "type": "nominal", "scale": {"domain": ["all","fit1","fit2"], "range": ["circle","square","triangle-up"]}, "legend": null},
     "fill": {"field": "s", "type": "nominal", "scale": {"domain": ["all","fit1","fit2"], "range": ["#ffffff","#ff1414","#009a00"]}, "legend": null},
     "stroke": {"field": "s", "type": "nominal", "scale": {"domain": ["all","fit1","fit2"], "range": ["#a6a6a6","#ff1414","#009a00"]}, "legend": null}
    }},
   {"data": {"name": "notes"}, "transform": [{"filter": "datum.p == 'NO' && datum.r == 'main'"}],
    "mark": {"type": "text", "align": "left", "baseline": "middle", "font": "Roboto", "fontSize": 18, "fontWeight": 300},
    "encoding": {"text": {"field": "t", "type": "nominal"}, "color": {"field": "s", "type": "nominal", "scale": {"domain": ["all","fit1","fit2","ftest"], "range": ["#a3a3a3","#ff2a2a","#1fa51f","#a85a32"]}, "legend": null}}},
   {"data": {"name": "notes"}, "transform": [{"filter": "datum.p == 'NO' && datum.r == 'beta'"}],
    "mark": {"type": "text", "align": "left", "baseline": "middle", "font": "Roboto", "fontSize": 18, "fontWeight": 300, "fontStyle": "italic"},
    "encoding": {"text": {"field": "t", "type": "nominal"}, "color": {"field": "s", "type": "nominal", "scale": {"domain": ["all","fit1","fit2","ftest"], "range": ["#a3a3a3","#ff2a2a","#1fa51f","#a85a32"]}, "legend": null}}},
   {"data": {"name": "notes"}, "transform": [{"filter": "datum.p == 'NO' && datum.r == 'rms'"}],
    "mark": {"type": "text", "align": "left", "baseline": "middle", "font": "DejaVu Sans", "fontSize": 12},
    "encoding": {"text": {"field": "t", "type": "nominal"}, "color": {"field": "s", "type": "nominal", "scale": {"domain": ["all","fit1","fit2","ftest"], "range": ["#a3a3a3","#ff2a2a","#1fa51f","#a85a32"]}, "legend": null}}}
  ]
 },
 {
  "width": 598, "height": 281,
  "title": {"text": ["", "HY"], "lineHeight": 22},
  "resolve": {"axis": {"x": "independent", "y": "independent"}},
  "encoding": {
   "x": {"field": "x", "type": "quantitative", "scale": {"domain": [22.5, 31], "nice": false, "zero": false}, "axis": null},
   "y": {"field": "y", "type": "quantitative", "scale": {"domain": [-0.095, 3.89], "nice": false, "zero": false}, "axis": null}
  },
  "layer": [
   {"data": {"name": "pts"}, "transform": [{"filter": "datum.p == 'HY' && (datum.k == 'fit1' || datum.k == 'fit2')"}],
    "mark": {"type": "point", "shape": "circle", "filled": true, "fill": "#d6d6d6", "stroke": "#a3a3a3", "strokeWidth": 1, "size": 160, "opacity": 1},
    "encoding": {
     "x": {"field": "x", "type": "quantitative", "scale": {"domain": [22.5, 31], "nice": false, "zero": false}, "axis": {"orient": "bottom", "values": [23,24,25,26,27,28,29,30,31], "format": "d", "labelPadding": 10, "title": "Log₁₀ M₀ (dyn*cm)", "titleFontSize": 22, "titlePadding": 4}},
     "y": {"field": "y", "type": "quantitative", "scale": {"domain": [-0.095, 3.89], "nice": false, "zero": false}, "axis": {"orient": "left", "values": [0,0.5,1,1.5,2,2.5,3,3.5], "format": "~g", "labelPadding": 18, "title": "Log₁₀ N", "titlePadding": 19}}
    }},
   {"data": {"name": "lines"}, "transform": [{"filter": "datum.p == 'HY'"}],
    "mark": {"type": "line", "strokeWidth": 1.1},
    "encoding": {
     "x": {"field": "x", "type": "quantitative", "scale": {"domain": [22.5, 31], "nice": false, "zero": false}, "axis": {"orient": "top", "values": [23,24,25,26,27,28,29,30,31], "labels": false, "title": "6443 EARTHQUAKES 0-100 km \u00a0HYBRID", "titleFontSize": 21.5, "titlePadding": 9}},
     "y": {"field": "y", "type": "quantitative", "scale": {"domain": [-0.095, 3.89], "nice": false, "zero": false}, "axis": {"orient": "right", "values": [0,0.5,1,1.5,2,2.5,3,3.5], "labels": false, "title": null}},
     "color": {"field": "s", "type": "nominal", "scale": {"domain": ["all","fit1","fit2","ftest"], "range": ["#a3a3a3","#ff2a2a","#1fa51f","#a85a32"]}, "legend": null}
    }},
   {"data": {"name": "pts"}, "transform": [{"filter": "datum.p == 'HY' && datum.k == 'low'"}],
    "mark": {"type": "point", "shape": "square", "filled": false, "stroke": "#333333", "strokeWidth": 1, "size": 45, "opacity": 1}},
   {"data": {"name": "pts"}, "transform": [{"filter": "datum.p == 'HY' && datum.k == 'inc'"}],
    "mark": {"type": "point", "shape": "M-1,0L1,0M0,-1L0,1", "filled": false, "stroke": "#444444", "strokeWidth": 1, "size": 45, "opacity": 1}},
   {"data": {"name": "pts"}, "transform": [{"filter": "datum.p == 'HY' && datum.k == 'fit1'"}],
    "mark": {"type": "point", "shape": "square", "filled": true, "fill": "#ff1414", "size": 100, "opacity": 1}},
   {"data": {"name": "pts"}, "transform": [{"filter": "datum.p == 'HY' && datum.k == 'fit2'"}],
    "mark": {"type": "point", "shape": "triangle-up", "filled": true, "fill": "#009a00", "size": 100, "opacity": 1}},
   {"data": {"name": "notes"}, "transform": [{"filter": "datum.p == 'HY' && datum.r == 'sym'"}],
    "mark": {"type": "point", "strokeWidth": 1.2, "size": 90, "opacity": 1},
    "encoding": {
     "shape": {"field": "s", "type": "nominal", "scale": {"domain": ["all","fit1","fit2"], "range": ["circle","square","triangle-up"]}, "legend": null},
     "fill": {"field": "s", "type": "nominal", "scale": {"domain": ["all","fit1","fit2"], "range": ["#ffffff","#ff1414","#009a00"]}, "legend": null},
     "stroke": {"field": "s", "type": "nominal", "scale": {"domain": ["all","fit1","fit2"], "range": ["#a6a6a6","#ff1414","#009a00"]}, "legend": null}
    }},
   {"data": {"name": "notes"}, "transform": [{"filter": "datum.p == 'HY' && datum.r == 'main'"}],
    "mark": {"type": "text", "align": "left", "baseline": "middle", "font": "Roboto", "fontSize": 18, "fontWeight": 300},
    "encoding": {"text": {"field": "t", "type": "nominal"}, "color": {"field": "s", "type": "nominal", "scale": {"domain": ["all","fit1","fit2","ftest"], "range": ["#a3a3a3","#ff2a2a","#1fa51f","#a85a32"]}, "legend": null}}},
   {"data": {"name": "notes"}, "transform": [{"filter": "datum.p == 'HY' && datum.r == 'beta'"}],
    "mark": {"type": "text", "align": "left", "baseline": "middle", "font": "Roboto", "fontSize": 18, "fontWeight": 300, "fontStyle": "italic"},
    "encoding": {"text": {"field": "t", "type": "nominal"}, "color": {"field": "s", "type": "nominal", "scale": {"domain": ["all","fit1","fit2","ftest"], "range": ["#a3a3a3","#ff2a2a","#1fa51f","#a85a32"]}, "legend": null}}},
   {"data": {"name": "notes"}, "transform": [{"filter": "datum.p == 'HY' && datum.r == 'rms'"}],
    "mark": {"type": "text", "align": "left", "baseline": "middle", "font": "DejaVu Sans", "fontSize": 12},
    "encoding": {"text": {"field": "t", "type": "nominal"}, "color": {"field": "s", "type": "nominal", "scale": {"domain": ["all","fit1","fit2","ftest"], "range": ["#a3a3a3","#ff2a2a","#1fa51f","#a85a32"]}, "legend": null}}}
  ]
 }
 ]}
]
}
